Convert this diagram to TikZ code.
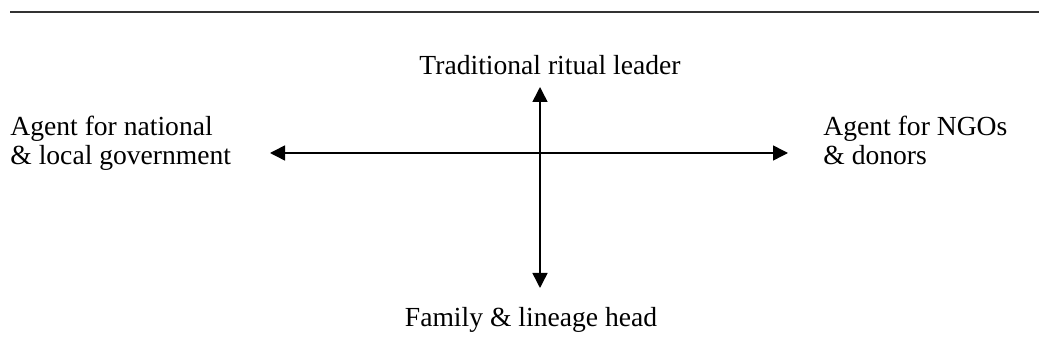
\documentclass[tikz,border=0pt]{standalone}
\usepackage{fontspec}
\setmainfont{Liberation Serif}
\usetikzlibrary{arrows.meta}

\begin{document}
\begin{tikzpicture}[x=0.5pt,y=-0.5pt,
        axis/.style={line width=0.75pt,{Triangle[length=7.5pt,width=7.5pt]}-{Triangle[length=7.5pt,width=7.5pt]}},
        rule/.style={line width=1pt,draw=black!80},
        role/.style={inner sep=0pt,font=\fontsize{13.8}{14.5}\selectfont}]
    \useasboundingbox (0,0) rectangle (1039,362);

    \coordinate (ruleL) at (10,12);
    \coordinate (ruleR) at (1039,12);
    \draw[rule] (ruleL) -- (ruleR);

    \coordinate (west) at (270,153);
    \coordinate (east) at (788,153);
    \coordinate (north) at (540,87);
    \coordinate (south) at (540,288);

    \node[role,anchor=base] (ritual) at (550,75) {Traditional ritual leader};
    \node[role,anchor=base] (family) at (531,327) {Family \& lineage head};
    \node[role,anchor=base west,align=left] (gov) at (10,165) {Agent for national\\\& local government};
    \node[role,anchor=base west,align=left] (ngo) at (823,165) {Agent for NGOs\\\& donors};

    \draw[axis] (west) -- (east);
    \draw[axis] (north) -- (south);
\end{tikzpicture}
\end{document}
